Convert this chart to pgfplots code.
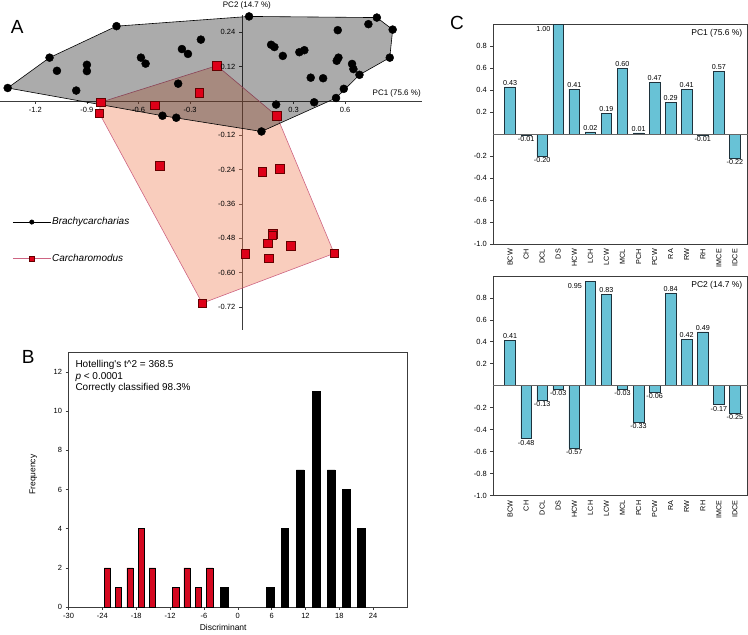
\documentclass[border=0pt]{standalone}
\usepackage{fontspec}
\setmainfont{Liberation Sans}
\usepackage{pgfplots}
\usepackage{pgfplotstable}
\pgfplotsset{compat=1.18}
\pgfkeys{/pgf/number format/assume math mode=true}
\pgfplotsset{
  /pgfplots/layers/labelsup/.define layer set={
    axis background,axis grid,axis ticks,axis lines,main,
    axis tick labels,axis descriptions,axis foreground
  }{/pgfplots/layers/standard},
}

\definecolor{pinkbase}{RGB}{240,130,90}
\definecolor{pinkline}{RGB}{206,100,130}
\definecolor{sqred}{RGB}{222,0,24}
\definecolor{sqdark}{RGB}{100,0,0}
\definecolor{barred}{RGB}{212,8,32}
\definecolor{cyanbar}{RGB}{104,194,214}
\definecolor{bardark}{RGB}{30,50,60}
\definecolor{axgray}{RGB}{60,60,60}
\newcommand{\fsz}[1]{\fontsize{#1}{#1}\selectfont}

\pgfplotstableread{
x y
-1.360 0.045
-1.117 0.151
-1.074 0.105
-0.962 0.036
-0.900 0.126
-0.900 0.104
-0.728 0.261
-0.586 0.151
-0.559 0.130
-0.348 0.181
-0.313 0.164
-0.238 0.214
-0.370 0.060
-0.461 -0.052
-0.381 -0.059
0.042 0.295
0.170 0.196
0.189 0.188
0.238 0.157
0.334 0.170
0.363 0.177
0.557 0.247
0.561 0.151
0.551 0.140
0.400 0.081
0.472 0.079
0.420 -0.005
0.199 -0.013
0.114 -0.107
0.547 0.010
0.592 0.042
0.683 0.091
0.640 0.129
0.648 0.111
0.735 0.268
0.784 0.291
0.876 0.249
0.859 0.151
}\brachy

\pgfplotstableread{
x y
-0.821 -0.005
-0.828 -0.043
-0.505 -0.016
-0.478 -0.226
-0.248 0.029
-0.145 0.123
0.203 -0.053
0.118 -0.247
0.222 -0.237
0.180 -0.464
0.176 -0.470
0.151 -0.497
0.284 -0.507
0.019 -0.534
0.157 -0.550
0.536 -0.533
-0.230 -0.707
}\carcha

\pgfplotstableread{
x y
-1.360 0.045
-1.117 0.151
-0.728 0.261
0.042 0.295
0.784 0.291
0.876 0.249
0.859 0.151
0.683 0.091
0.547 0.010
0.114 -0.107
-0.461 -0.052
-1.360 0.045
}\brachyhull

\pgfplotstableread{
x y
-0.821 -0.005
-0.145 0.123
0.203 -0.053
0.536 -0.533
-0.230 -0.707
-0.828 -0.043
-0.821 -0.005
}\carchahull

\pgfplotstableread{
x f
-23.10 2
-21.15 1
-19.10 2
-17.08 4
-15.13 2
-11.00 1
-9.00 2
-6.99 1
-4.98 2
}\histred

\pgfplotstableread{
x f
-2.44 1
5.83 1
8.36 4
11.08 7
13.86 11
16.57 7
19.29 6
21.95 4
}\histblack

\pgfplotstableread{
i name p1 p2
0 BCW 0.43 0.41
1 CH -0.01 -0.48
2 DCL -0.20 -0.13
3 DS 1.00 -0.03
4 HCW 0.41 -0.57
5 LCH 0.02 0.95
6 LCW 0.19 0.83
7 MCL 0.60 -0.03
8 PCH 0.01 -0.33
9 PCW 0.47 -0.06
10 RA 0.29 0.84
11 RW 0.41 0.42
12 RH -0.01 0.49
13 IMCE 0.57 -0.17
14 IDCE -0.22 -0.25
}\loadings

\pgfplotsset{
  loadaxis/.style={
    scale only axis, width=254.4pt, height=219.7pt,
    xmin=-1.04, xmax=14.79, ymin=-1, ymax=1,
    xtick={0,...,14},
    xticklabels={BCW,CH,DCL,DS,HCW,LCH,LCW,MCL,PCH,PCW,RA,RW,RH,IMCE,IDCE},
    xticklabel style={rotate=90, anchor=east, font=\fsz{7.2}, inner sep=2pt},
    xtick style={draw=none},
    ytick={-1,-0.8,-0.6,-0.4,-0.2,0.2,0.4,0.6,0.8},
    yticklabel style={font=\fsz{7.5}, /pgf/number format/fixed, /pgf/number format/fixed zerofill, /pgf/number format/precision=1},
    ytick pos=left, tick align=outside, major tick length=3pt,
    tick style={axgray, line width=0.5pt},
    axis line style={axgray, line width=0.7pt},
    clip=false,
  },
  loadbars/.style={ybar, bar width=0.66, bar shift=0pt, fill=cyanbar, draw=bardark, line width=0.6pt},
  loadlabels/.style={draw=none, nodes near coords={\pgfmathprintnumber[fixed, fixed zerofill, precision=2]{\pgfplotspointmeta}},
    point meta=y, nodes near coords align=vertical,
    every node near coord/.append style={font=\fsz{7.2}, inner sep=1.5pt, text=black}},
}

\begin{document}
\begin{tikzpicture}

% ---------------- Panel A ----------------
\begin{axis}[
  set layers=labelsup,
  scale only axis, width=421.7pt, height=315pt,
  at={(0pt,-330pt)}, anchor=south west,
  xmin=-1.403, xmax=1.045, ymin=-0.80, ymax=0.30,
  axis lines=middle,
  axis line style={-, axgray, line width=0.6pt},
  every inner x axis line/.append style={-},
  every inner y axis line/.append style={-},
  xtick={-1.2,-0.9,-0.6,-0.3,0.3,0.6},
  ytick={-0.72,-0.6,-0.48,-0.36,-0.24,-0.12,0.12,0.24},
  scaled ticks=false,
  tick align=outside, major tick length=3pt,
  tick style={axgray, line width=0.5pt},
  xticklabel style={font=\fsz{7.5}, /pgf/number format/fixed, /pgf/number format/fixed zerofill, /pgf/number format/precision=1},
  yticklabel style={font=\fsz{7.5}, /pgf/number format/fixed, /pgf/number format/fixed zerofill, /pgf/number format/precision=2},
  xlabel={PC1 (75.6 \%)}, ylabel={PC2 (14.7 \%)},
  every axis x label/.style={at={(current axis.right of origin)}, anchor=south east, font=\fsz{8}, inner sep=1pt, yshift=2pt},
  every axis y label/.style={at={(current axis.above origin)}, anchor=south, font=\fsz{8}, inner sep=1pt, yshift=5pt, xshift=5pt},
  clip=false,
  legend style={at={(0.0285,0.36)}, anchor=north west, draw=none, fill=none,
    font=\fsz{10}, row sep=26pt, inner sep=0pt, nodes={inner sep=1pt}},
  legend cell align=left,
  /tikz/every even column/.append style={column sep=5.7pt},
  legend image code/.code={\draw[mark repeat=2, mark phase=2, #1] plot coordinates {(0pt,0pt) (19pt,0pt) (38pt,0pt)};},
]
\addplot[fill=pinkbase, fill opacity=0.4, draw=pinkline, draw opacity=1, line width=0.6pt, line join=round, forget plot] table {\carchahull};
\addplot[fill=black, fill opacity=0.33, draw=black, draw opacity=1, line width=0.6pt, line join=round, forget plot] table {\brachyhull};
\addplot[only marks, mark=*, mark size=4pt, mark options={fill=black, draw=black}, forget plot] table {\brachy};
\addplot[only marks, mark=square*, mark size=4.3pt, mark options={fill=sqred, draw=sqdark, line width=0.6pt}, forget plot] table {\carcha};
\addlegendimage{black, line width=0.5pt, mark=*, mark size=2.2pt, mark options={fill=black}}
\addlegendentry{\textit{Brachycarcharias}}
\addlegendimage{pinkline, line width=0.6pt, mark=square*, mark size=2.8pt, mark options={fill=sqred, draw=sqdark}}
\addlegendentry{\textit{Carcharomodus}}
\end{axis}

% ---------------- Panel B ----------------
\begin{axis}[
  scale only axis, width=338.6pt, height=254.6pt,
  at={(68.3pt,-607.3pt)}, anchor=south west,
  xmin=-30, xmax=30, ymin=0, ymax=13,
  xtick={-30,-24,-18,-12,-6,0,6,12,18,24}, ytick={0,2,4,6,8,10,12},
  xtick pos=bottom, ytick pos=left, tick align=outside, major tick length=3pt,
  tick style={axgray, line width=0.5pt},
  axis line style={axgray, line width=0.7pt},
  ticklabel style={font=\fsz{7.5}},
  xlabel={Discriminant}, ylabel={Frequency},
  xlabel style={font=\fsz{8.5}, at={(axis description cs:0.457,0)}, anchor=north, yshift=-14pt},
  ylabel style={font=\fsz{8.5}, at={(axis description cs:-0.104,0.52)}, anchor=center},
  clip=false,
]
\addplot[ybar, bar width=1.13, bar shift=0pt, fill=barred, draw=black, line width=0.6pt] table[x=x, y=f] {\histred};
\addplot[ybar, bar width=1.37, bar shift=0pt, fill=black, draw=black, line width=0.6pt] table[x=x, y=f] {\histblack};
\node[anchor=north west, align=left, font=\fsz{10}, inner sep=0pt] at (rel axis cs:0.02,0.97)
  {Hotelling\textquotesingle s t\textasciicircum 2 = 368.5\\[1.6pt]\textit{p} < 0.0001\\[1.6pt]Correctly classified 98.3\%};
\end{axis}

% ---------------- Panel C top ----------------
\begin{axis}[loadaxis, at={(493.3pt,-244pt)}, anchor=south west]
\addplot[loadbars] table[x=i, y=p1] {\loadings};
\addplot[gray!80!black, line width=0.8pt, forget plot] coordinates {(-1.04,0) (14.79,0)};
\addplot[loadlabels, skip coords between index={3}{4}] table[x=i, y=p1] {\loadings};
\addplot[loadlabels, nodes near coords={1.00}] coordinates {(2.07,0.915)};
\node[anchor=north east, font=\fsz{8.5}, inner sep=1pt] at (rel axis cs:0.984,0.981) {PC1 (75.6 \%)};
\end{axis}

% ---------------- Panel C bottom ----------------
\begin{axis}[loadaxis, at={(493.3pt,-495.7pt)}, anchor=south west]
\addplot[loadbars] table[x=i, y=p2] {\loadings};
\addplot[gray!80!black, line width=0.8pt, forget plot] coordinates {(-1.04,0) (14.79,0)};
\addplot[loadlabels, skip coords between index={5}{6}] table[x=i, y=p2] {\loadings};
\addplot[loadlabels, nodes near coords={0.95}] coordinates {(4.04,0.866)};
\node[anchor=north east, font=\fsz{8.5}, inner sep=1pt] at (rel axis cs:0.984,0.981) {PC2 (14.7 \%)};
\end{axis}

% panel letters
\node[font=\fsz{19}] at (17pt,-27pt) {A};
\node[font=\fsz{19}] at (28pt,-357pt) {B};
\node[font=\fsz{19}] at (457pt,-23pt) {C};

\useasboundingbox (0pt,0pt) rectangle (748pt,-633pt);
\end{tikzpicture}
\end{document}
